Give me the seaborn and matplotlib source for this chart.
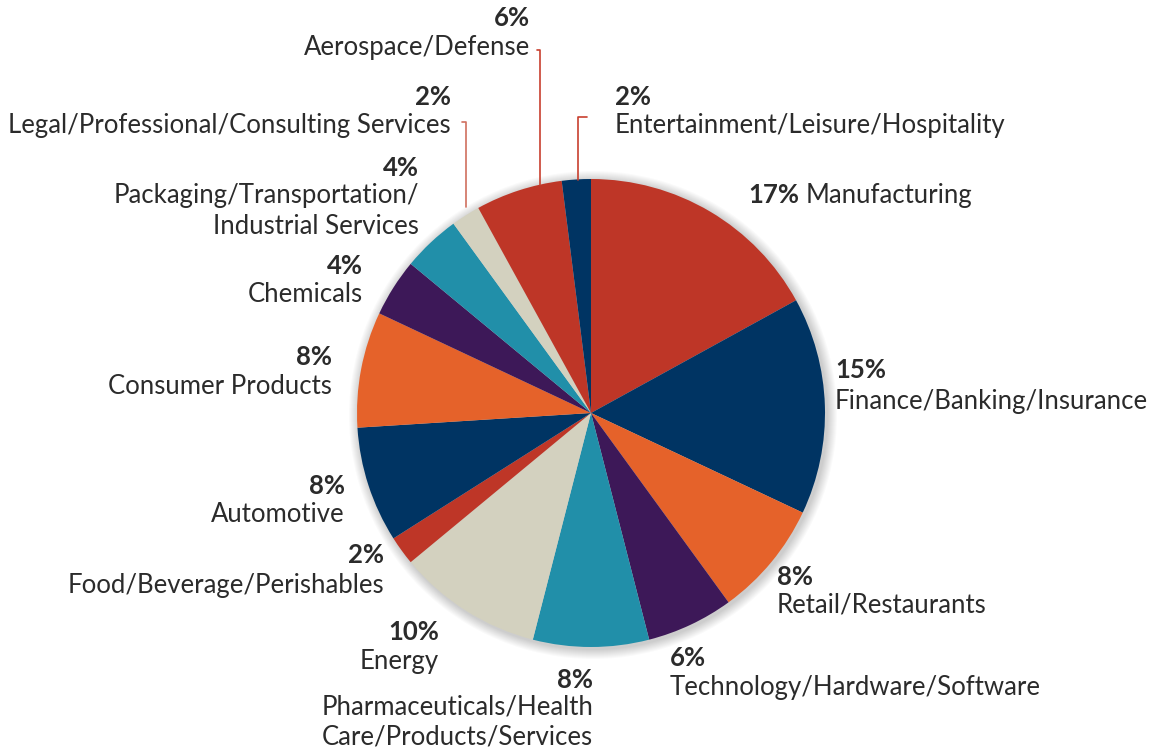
import matplotlib
matplotlib.use("Agg")
import matplotlib.pyplot as plt
import seaborn as sns
from matplotlib.patches import Circle

sns.set_theme(style="white")
plt.rcParams["font.family"] = ["Lato", "DejaVu Sans"]

# Industry share of respondents, clockwise from 12 o'clock
industries = [
    "Manufacturing",
    "Finance/Banking/Insurance",
    "Retail/Restaurants",
    "Technology/Hardware/Software",
    "Pharmaceuticals/Health\nCare/Products/Services",
    "Energy",
    "Food/Beverage/Perishables",
    "Automotive",
    "Consumer Products",
    "Chemicals",
    "Packaging/Transportation/\nIndustrial Services",
    "Legal/Professional/Consulting Services",
    "Aerospace/Defense",
    "Entertainment/Leisure/Hospitality",
]
shares = [17, 15, 8, 6, 8, 10, 2, 8, 8, 4, 4, 2, 6, 2]

RED, NAVY, ORANGE = "#BE3627", "#003463", "#E5622A"
PURPLE, TEAL, BEIGE = "#3D1858", "#218FA9", "#D3D1BF"
palette = sns.color_palette([RED, NAVY, ORANGE, PURPLE, TEAL, BEIGE,
                             RED, NAVY, ORANGE, PURPLE, TEAL, BEIGE,
                             RED, NAVY])

W, H = 1155, 749
fig = plt.figure(figsize=(W / 100, H / 100), dpi=100)
ax = fig.add_axes([0, 0, 1, 1])
ax.set_xlim(0, W)
ax.set_ylim(0, H)

def Y(y):
    # pixel row (from top) to data y
    return H - y

cx, cy, R = 591, Y(413), 234

# soft shadow behind the pie
for i in range(10):
    ax.add_patch(Circle((cx + 2, cy - 2), R + 1 + i, color="#000000",
                        alpha=0.018, lw=0, zorder=0))

ax.pie(shares, colors=palette, startangle=90, counterclock=False,
       center=(cx, cy), radius=R, frame=True,
       wedgeprops=dict(linewidth=0))

TXT = "#2B2B2B"
FS = 18.5

# (pct x, pct y, name y, alignment) in pixel space for each industry
layout = [
    (748, 195, 195, "left"),
    (835, 370, 401, "left"),
    (777, 577, 605, "left"),
    (670, 658, 688, "left"),
    (593, 680, 722, "right"),
    (439, 632, 662, "right"),
    (384, 555, 585, "right"),
    (345, 486, 514, "right"),
    (332, 357, 387, "right"),
    (363, 266, 294, "right"),
    (419, 168, 211, "right"),
    (451, 97, 126, "right"),
    (530, 18, 48, "right"),
    (615, 97, 125, "left"),
]

for i, (name, share, (x, yp, yn, ha)) in enumerate(zip(industries, shares, layout)):
    ax.text(x, Y(yp), f"{share}%", fontsize=FS, fontweight="bold",
            color=TXT, ha=ha, va="center")
    if i == 0:
        # percentage and name share one line
        ax.text(806, Y(yn), name, fontsize=FS, color=TXT,
                ha="left", va="center")
        continue
    ax.text(x, Y(yn), name, fontsize=FS, color=TXT, ha=ha, va="center",
            multialignment=ha, linespacing=1.3)

# leader lines for the narrow top slices
LINE = "#C8402F"
ax.plot([537, 540, 540], [Y(50), Y(50), Y(185)], color=LINE, lw=1.2)
ax.plot([462, 466, 466], [Y(122), Y(122), Y(207)], color="#D0705F", lw=1.2)
ax.plot([587, 578, 578], [Y(117), Y(117), Y(180)], color=LINE, lw=1.2)

ax.set_xlim(0, W)
ax.set_ylim(0, H)
ax.set_aspect("equal")
ax.axis("off")

fig.savefig("out.png", dpi=100, facecolor="white")
